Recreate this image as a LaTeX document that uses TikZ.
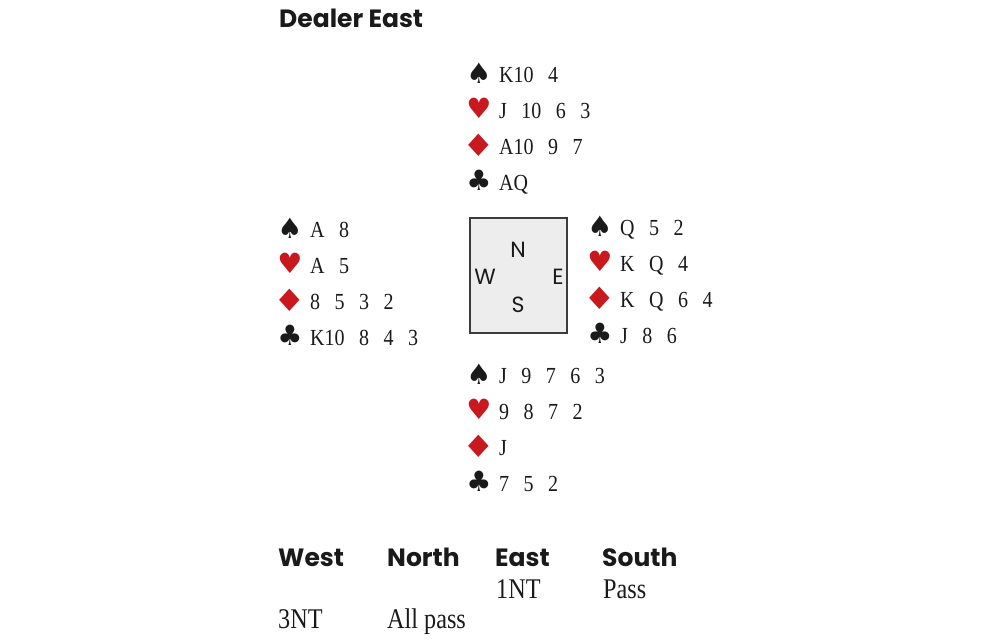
\documentclass[tikz,border=0pt]{standalone}
\usepackage{fontspec}
\setmainfont{Liberation Serif}
\newfontfamily\cardfont{Liberation Serif}[FakeStretch=0.87]
\newfontfamily\bidfont{Liberation Serif}[FakeStretch=0.85]
\newfontfamily\headfont{Poppins}
\newfontfamily\suitfont{DejaVu Sans}
\newcommand\cardsize{\cardfont\fontsize{23}{24}\selectfont\spaceskip 14.5pt\relax}
\newcommand\widediamond{\scalebox{1.3}[1.1]{♦}}
\definecolor{suitred}{HTML}{C8191E}
\definecolor{ink}{HTML}{1A1A1A}
\definecolor{tablegrey}{HTML}{EDEDED}
\tikzset{
  suit/.style={font=\suitfont\fontsize{28}{28}\selectfont, anchor=base, inner sep=0pt, text=ink},
  redsuit/.style={suit, text=suitred},
  cards/.style={font=\cardsize, anchor=base west, inner sep=0pt, text=ink},
  heading/.style={font=\headfont\bfseries\fontsize{25}{26}\selectfont, anchor=base west, inner sep=0pt, text=ink},
  bid/.style={font=\bidfont\fontsize{28.5}{30}\selectfont, anchor=base west, inner sep=0pt, text=ink},
  compass/.style={font=\headfont\fontsize{22}{22}\selectfont, inner sep=0pt, text=ink}
}
\begin{document}
\begin{tikzpicture}[x=1pt,y=-1pt]
  \useasboundingbox (0,0) rectangle (1000,642);

  \node[heading] (dealer) at (279,28) {Dealer East};

  % the four hands
  \foreach \n/\x/\y/\cs/\ch/\cd/\cc in {
      north/479/82/{K10 4}/{J 10 6 3}/{A10 9 7}/{AQ},
      west/290/237/{A 8}/{A 5}/{8 5 3 2}/{K10 8 4 3},
      east/600/235/{Q 5 2}/{K Q 4}/{K Q 6 4}/{J 8 6},
      south/479/383/{J 9 7 6 3}/{9 8 7 2}/{J}/{7 5 2}}{
    \node[suit]    (\n-s)  at (\x,\y+1)   {♠};
    \node[cards]   (\n-sc) at (\x+20,\y)  {\cs};
    \node[redsuit] (\n-h)  at (\x,\y+36)  {♥};
    \node[cards]   (\n-hc) at (\x+20,\y+36) {\ch};
    \node[redsuit] (\n-d)  at (\x,\y+74)  {\widediamond};
    \node[cards]   (\n-dc) at (\x+20,\y+72) {\cd};
    \node[suit]    (\n-c)  at (\x,\y+108) {♣};
    \node[cards]   (\n-cc) at (\x+20,\y+108) {\cc};
  }

  % table
  \node[draw=ink!85, line width=1.2pt, fill=tablegrey, minimum width=97, minimum height=115, inner sep=0pt] (table) at (518.5,275.5) {};
  \node[compass] (compN) at (518,250) {N};
  \node[compass] (compW) at (485,277) {W};
  \node[compass] (compE) at (558,277) {E};
  \node[compass] (compS) at (518,305) {S};

  % bidding
  \node[heading] (bidW) at (278,566) {West};
  \node[heading] (bidN) at (387,566) {North};
  \node[heading] (bidE) at (495,566) {East};
  \node[heading] (bidS) at (602,566) {South};
  \node[bid] (b1) at (496,598) {1NT};
  \node[bid] (b2) at (603,598) {Pass};
  \node[bid] (b3) at (278,628) {3NT};
  \node[bid] (b4) at (387,628) {All pass};
\end{tikzpicture}
\end{document}
